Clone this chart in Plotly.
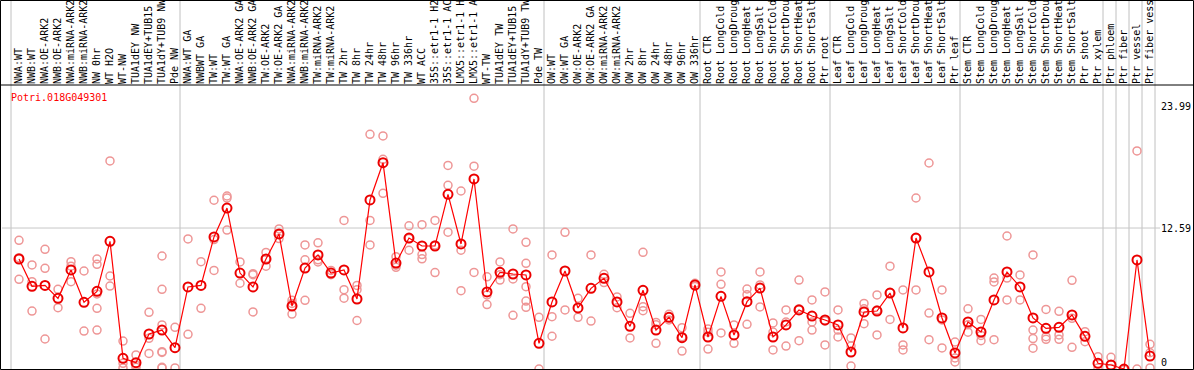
import plotly.graph_objects as go

# ---------------- data ----------------
title_text = "Potri.018G049301"

categories = [
    "NWA:WT", "NWB:WT", "NWA:OE-ARK2", "NWB:OE-ARK2", "NWA:miRNA-ARK2", "NWB:miRNA-ARK2",
    "NW 0hr", "WT H2O", "WT-NW", "TUA1dEY NW", "TUA1dEY+TUB15 NW", "TUA1dY+TUB9 NW", "Pde NW",
    "NWA:WT GA", "NWBWT GA", "TW:WT", "TW:WT GA", "NWA:OE-ARK2 GA", "NWB:OE-ARK2 GA",
    "TW:OE-ARK2", "TW:OE-ARK2 GA", "NWA:miRNA-ARK2 GA", "NWB:miRNA-ARK2 GA", "TW:miRNA-ARK2",
    "TW:miRNA-ARK2 GA", "TW 2hr", "TW 8hr", "TW 24hr", "TW 48hr", "TW 96hr", "TW 336hr", "WT ACC",
    "35S::etr1-1 H2O", "35S::etr1-1 ACC", "LMX5::etr1-1 H2O", "LMX5::etr1-1 ACC", "WT-TW",
    "TUA1dEY TW", "TUA1dEY+TUB15 TW", "TUA1dY+TUB9 TW", "Pde TW",
    "OW:WT", "OW:WT GA", "OW:OE-ARK2", "OW:OE-ARK2 GA", "OW:miRNA-ARK2", "OW:miRNA-ARK2 GA",
    "OW 2hr", "OW 8hr", "OW 24hr", "OW 48hr", "OW 96hr", "OW 336hr",
    "Root CTR", "Root LongCold", "Root LongDrought", "Root LongHeat", "Root LongSalt",
    "Root ShortCold", "Root ShortDrought", "Root ShortHeat", "Root ShortSalt", "Ptr root",
    "Leaf CTR", "Leaf LongCold", "Leaf LongDrought", "Leaf LongHeat", "Leaf LongSalt",
    "Leaf ShortCold", "Leaf ShortDrought", "Leaf ShortHeat", "Leaf ShortSalt", "Ptr leaf",
    "Stem CTR", "Stem LongCold", "Stem LongDrought", "Stem LongHeat", "Stem LongSalt",
    "Stem ShortCold", "Stem ShortDrought", "Stem ShortHeat", "Stem ShortSalt", "Ptr shoot",
    "Ptr xylem", "Ptr phloem", "Ptr fiber", "Ptr vessel", "Ptr fiber vessel",
]

mean_values = [
    9.68, 7.11, 7.20, 5.98, 8.65, 5.61, 6.64, 11.34, 0.35, -0.06,
    2.63, 3.00, 1.35, 7.05, 7.20, 11.75, 14.47, 8.36, 7.05, 9.68,
    12.03, 5.26, 8.83, 10.06, 8.36, 8.65, 5.92, 15.23, 18.73, 9.30,
    11.65, 10.90, 10.90, 15.76, 11.09, 17.20, 6.58, 8.43, 8.27, 8.18,
    1.76, 5.64, 8.55, 5.08, 6.92, 7.86, 5.64, 3.35, 6.74, 3.00,
    4.20, 2.29, 7.24, 2.35, 6.17, 2.54, 5.67, 6.95, 2.35, 3.48,
    4.89, 4.32, 3.95, 3.48, 0.94, 4.70, 4.79, 6.48, 3.20, 11.65,
    8.46, 4.14, 0.85, 3.76, 2.82, 5.83, 8.46, 7.05, 4.14, 3.16,
    3.26, 4.42, 2.41, -0.12, -0.28, -0.66, 9.59, 0.56,
]

replicate_values = [
    [11.43, 9.8, 7.77], [9.12, 7.55, 4.79], [10.59, 8.8, 2.16], [6.83, 5.1],
    [9.43, 9.0, 7.55], [8.55, 2.91], [9.68, 9.18, 6.39, 5.04, 3.0], [18.89, 8.08, 7.14],
    [1.97, -0.12, -0.56], [0.66, -0.5, -0.3], [4.67, 2.22, 0.81],
    [9.96, 6.83, 3.48, 0.97, 0.9, -0.56, -0.5], [3.26, -0.56],
    [11.56, 2.6], [9.43, 5.04], [15.2, 11.5, 8.6], [15.6, 15.4, 12.4], [9.4, 7.4],
    [8.2, 8.3, 4.7], [10.3, 9.0, 9.7], [12.5, 12.0, 11.6], [5.8, 5.5, 4.5],
    [11.0, 9.6, 5.8], [11.2, 9.4, 9.6], [8.6, 8.2], [13.3, 6.8, 6.0], [7.2, 6.8, 3.9],
    [21.4, 13.3, 11.0], [21.24, 19.05, 15.85], [9.9, 9.1, 8.9], [12.8, 11.6, 10.5],
    [12.9, 10.1, 9.7], [13.3, 11.0, 8.4], [18.47, 16.6, 12.2], [16.07, 10.5, 6.7],
    [24.78, 18.4, 8.42], [8.0, 6.3, 5.4], [9.4, 8.2, 7.7], [12.5, 7.8, 4.39],
    [11.25, 9.27, 7.08, 5.73, 5.14], [4.2, -0.66],
    [10.06, 4.26, 2.42], [12.19, 4.89], [5.98, 4.2], [10.06, 3.85], [8.24, 7.46],
    [6.11, 5.1], [4.57, 2.26], [10.31, 5.2, 4.82], [3.72, 3.5, 1.76], [4.48, 3.95],
    [3.22, 2.38, 1.03], [7.4, 7.1],
    [3.1, 2.8, 1.22], [8.46, 7.3, 2.73], [3.48, 1.76], [6.86, 6.33, 3.54], [8.46, 7.24, 5.17],
    [3.67, 2.82, 1.13], [4.89, 3.76, 1.5], [7.7, 5.0, 2.0], [5.83, 3.76, 3.0], [6.58, 3.85, 1.6],
    [4.89, 3.0, 2.35], [2.26, 1.5, -0.38], [5.5, 5.0, 3.6], [6.3, 4.89, 2.54], [9.0, 6.5, 4.0],
    [6.77, 1.6, 1.13], [15.41, 11.65, 6.77], [18.7, 4.6, 2.1], [6.77, 3.95, 1.32], [1.88, 0.38, 0.0],
    [5.0, 3.5, 2.8], [4.0, 2.5, 2.0], [7.89, 7.52, 2.1], [11.84, 7.89, 5.83], [8.18, 5.83],
    [10.06, 3.0, 2.2, 1.3], [4.94, 2.38, 2.13], [4.76, 2.54, 2.13], [7.68, 4.1, 1.38], [2.85, 1.91],
    [0.5, -0.56], [0.44, -0.6], [-0.7, -0.7], [19.83, -0.66], [1.66, 0.87, -0.56],
]

group_starts = [0, 13, 41, 53, 63, 73, 84, 85, 86, 87, 88]
y_tick_values = [0, 12.59, 23.99]
y_tick_labels = ["0", "12.59", "23.99"]
grid_value = 12.59

# ---------------- layout constants ----------------
W, H = 1194, 370
ML, MR, MT, MB = 2, 34, 85, 1
PW, PH = W - ML - MR, H - MT - MB
X_RANGE = [-1.3077, 87.769]
Y_RANGE = [-0.658, 26.03]
FONT = "DejaVu Sans Mono"


def px_to_paper_x(px):
    return (px - ML) / PW


def px_to_paper_y(py):
    return (H - MB - py) / PH


def data_to_paper_x(v):
    return (v - X_RANGE[0]) / (X_RANGE[1] - X_RANGE[0])


xs = list(range(len(categories)))
rep_x, rep_y = [], []
for i, vals in enumerate(replicate_values):
    for v in vals:
        rep_x.append(i)
        rep_y.append(v)

fig = go.Figure()
fig.add_trace(go.Scatter(
    x=rep_x, y=rep_y, mode="markers",
    marker=dict(symbol="circle-open", size=8, color="rgb(238,150,150)", line=dict(width=1.5)),
    hoverinfo="skip",
))
fig.add_trace(go.Scatter(
    x=xs, y=mean_values, mode="lines+markers",
    line=dict(color="rgb(255,0,0)", width=1.2),
    marker=dict(symbol="circle-open", size=9, color="rgb(235,0,0)", line=dict(width=2)),
))

shapes = []
# group separators (extend through the label area)
for g in group_starts:
    xp = data_to_paper_x(g - 8 / 13)
    shapes.append(dict(type="line", xref="paper", yref="paper", x0=xp, x1=xp,
                       y0=px_to_paper_y(369), y1=px_to_paper_y(0),
                       line=dict(color="rgb(192,192,192)", width=1), layer="below"))
# mid gridline
shapes.append(dict(type="line", xref="paper", yref="y", x0=0, x1=px_to_paper_x(1160),
                   y0=grid_value, y1=grid_value,
                   line=dict(color="rgb(200,200,200)", width=1), layer="below"))
# top line of plot area
shapes.append(dict(type="line", xref="paper", yref="paper",
                   x0=px_to_paper_x(0), x1=px_to_paper_x(W),
                   y0=px_to_paper_y(85), y1=px_to_paper_y(85),
                   line=dict(color="black", width=1)))
# outer frame
shapes.append(dict(type="rect", xref="paper", yref="paper",
                   x0=px_to_paper_x(0.5), x1=px_to_paper_x(W - 0.5),
                   y0=px_to_paper_y(H - 0.5), y1=px_to_paper_y(0.5),
                   line=dict(color="black", width=1)))

fig.update_layout(
    width=W, height=H,
    margin=dict(l=ML, r=MR, t=MT, b=MB, pad=0),
    paper_bgcolor="white", plot_bgcolor="white",
    showlegend=False,
    font=dict(family=FONT, size=10, color="black"),
    shapes=shapes,
    annotations=[dict(text=title_text, xref="paper", yref="paper",
                      x=px_to_paper_x(9), y=px_to_paper_y(97),
                      xanchor="left", yanchor="middle", showarrow=False,
                      font=dict(family=FONT, size=10, color="red"))],
    xaxis=dict(range=X_RANGE, tickmode="array", tickvals=xs, ticktext=categories,
               side="top", tickangle=-90, showgrid=False, zeroline=False, showline=False,
               ticks="", tickfont=dict(family=FONT, size=10, color="black"), automargin=False),
    yaxis=dict(range=Y_RANGE, tickmode="array", tickvals=y_tick_values, ticktext=y_tick_labels,
               side="right", showgrid=False, zeroline=False, showline=False, ticks="",
               tickfont=dict(family=FONT, size=10, color="black"), automargin=False),
)

fig.write_html("out.html", config={"displayModeBar": False},
               post_script="document.body.style.margin='0';")
